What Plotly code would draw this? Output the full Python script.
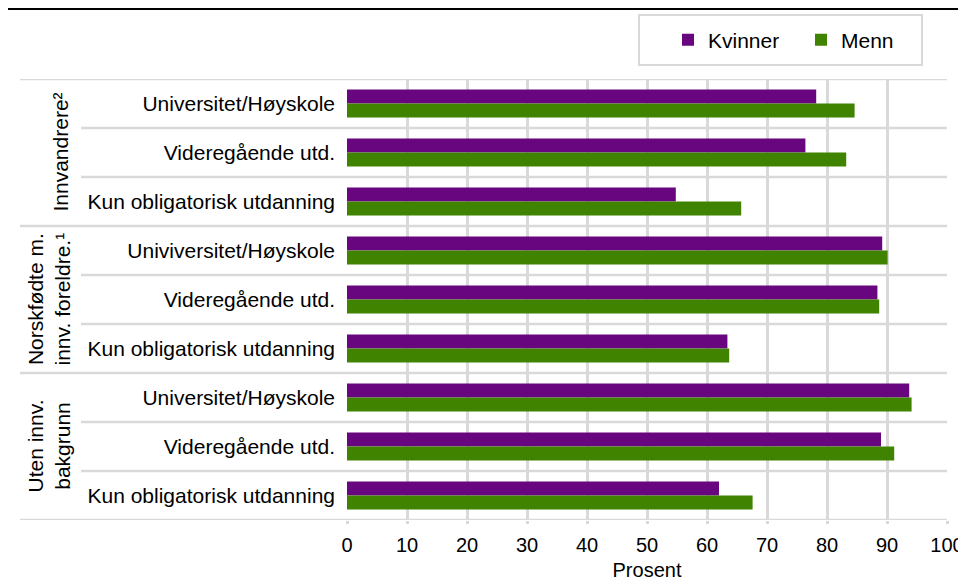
import plotly.graph_objects as go

# ---- data ----
categories = [
    "Universitet/Høyskole", "Videregående utd.", "Kun obligatorisk utdanning",
    "Univiversitet/Høyskole", "Videregående utd.", "Kun obligatorisk utdanning",
    "Universitet/Høyskole", "Videregående utd.", "Kun obligatorisk utdanning",
]
groups = ["Innvandrere²", "Norskfødte m.<br>innv. foreldre.¹", "Uten innv.<br>bakgrunn"]
kvinner = [78.2, 76.4, 54.8, 89.2, 88.4, 63.4, 93.7, 89.0, 62.0]
menn = [84.6, 83.2, 65.7, 90.1, 88.7, 63.7, 94.1, 91.2, 67.6]
x_ticks = [0, 10, 20, 30, 40, 50, 60, 70, 80, 90, 100]
x_title = "Prosent"

FONT = "Liberation Sans, Arial, sans-serif"
GRID = "#d9d9d9"
PURPLE = "#67067f"
GREEN = "#3f8300"

pos = list(range(len(categories)))

fig = go.Figure()
fig.add_trace(go.Bar(y=pos, x=kvinner, orientation="h", name="Kvinner",
                     marker=dict(color=PURPLE, line=dict(width=0))))
fig.add_trace(go.Bar(y=pos, x=menn, orientation="h", name="Menn",
                     marker=dict(color=GREEN, line=dict(width=0))))

OFF = 8  # page body margin
W, H = 958, 573
# plot area in screen pixels: x 347..947, y 79..520
L, T = 347 - OFF, 79 - OFF
R = W - (947 - OFF)
B = H - (520 - OFF)
pw, ph = W - L - R, H - T - B


def px_x(s):
    return (s - OFF - L) / pw


def px_y(s):
    return (H - B - (s - OFF)) / ph


def cx(s):
    return (s - OFF) / W


def cy(s):
    return 1 - (s - OFF) / H


shapes = []
n = len(categories)
for k in range(n + 1):
    yb = k - 0.5
    full = (k % 3 == 0)
    shapes.append(dict(type="line", xref="paper", yref="y",
                       x0=px_x(20 if full else 81), x1=1.0, y0=yb, y1=yb,
                       line=dict(color=GRID, width=2.5), layer="below"))
# legend box
shapes.append(dict(type="rect", xref="paper", yref="paper",
                   x0=px_x(639), x1=px_x(922), y0=px_y(65), y1=px_y(15),
                   line=dict(color=GRID, width=2), fillcolor="white", layer="below"))
# top black rule
shapes.append(dict(type="line", xref="paper", yref="paper",
                   x0=px_x(0), x1=px_x(975), y0=px_y(8.5), y1=px_y(8.5),
                   line=dict(color="black", width=3)))

annotations = []
group_x = [60, 48, 48]
for gi, g in enumerate(groups):
    annotations.append(dict(text=g, xref="paper", yref="y", x=px_x(group_x[gi]),
                            y=gi * 3 + 1, textangle=-90, showarrow=False,
                            xanchor="center", yanchor="middle",
                            font=dict(family=FONT, size=21, color="black")))

fig.update_layout(
    width=W, height=H, autosize=False,
    margin=dict(l=L, r=R, t=T, b=B, pad=0, autoexpand=False),
    paper_bgcolor="white", plot_bgcolor="white",
    barmode="group", bargap=0.43, bargroupgap=0,
    font=dict(family=FONT, size=21, color="black"),
    showlegend=True,
    legend=dict(orientation="h", xref="container", yref="container",
                x=cx(668), y=cy(40), xanchor="left",
                yanchor="middle", bgcolor="rgba(0,0,0,0)", borderwidth=0,
                entrywidth=88, entrywidthmode="pixels",
                font=dict(family=FONT, size=21, color="black"),
                traceorder="normal"),
    xaxis=dict(range=[0, 100], tickvals=x_ticks, ticktext=[str(v) for v in x_ticks],
               showgrid=True, gridcolor=GRID, gridwidth=2.5,
               zeroline=False, showline=False, automargin=False,
               ticks="outside", ticklen=3, tickcolor=GRID, tickwidth=2.5,
               ticklabelstandoff=4,
               tickfont=dict(family=FONT, size=20, color="black"),
               title=dict(text=x_title, standoff=12,
                          font=dict(family=FONT, size=20, color="black")),
               fixedrange=True),
    yaxis=dict(range=[n - 0.5, -0.5], tickvals=pos, ticktext=categories,
               showgrid=False, zeroline=False, showline=False, ticks="",
               ticklabelstandoff=11, automargin=False,
               tickfont=dict(family=FONT, size=21, color="black"),
               fixedrange=True),
    shapes=shapes,
    annotations=annotations,
)

fig.write_html("out.html")
